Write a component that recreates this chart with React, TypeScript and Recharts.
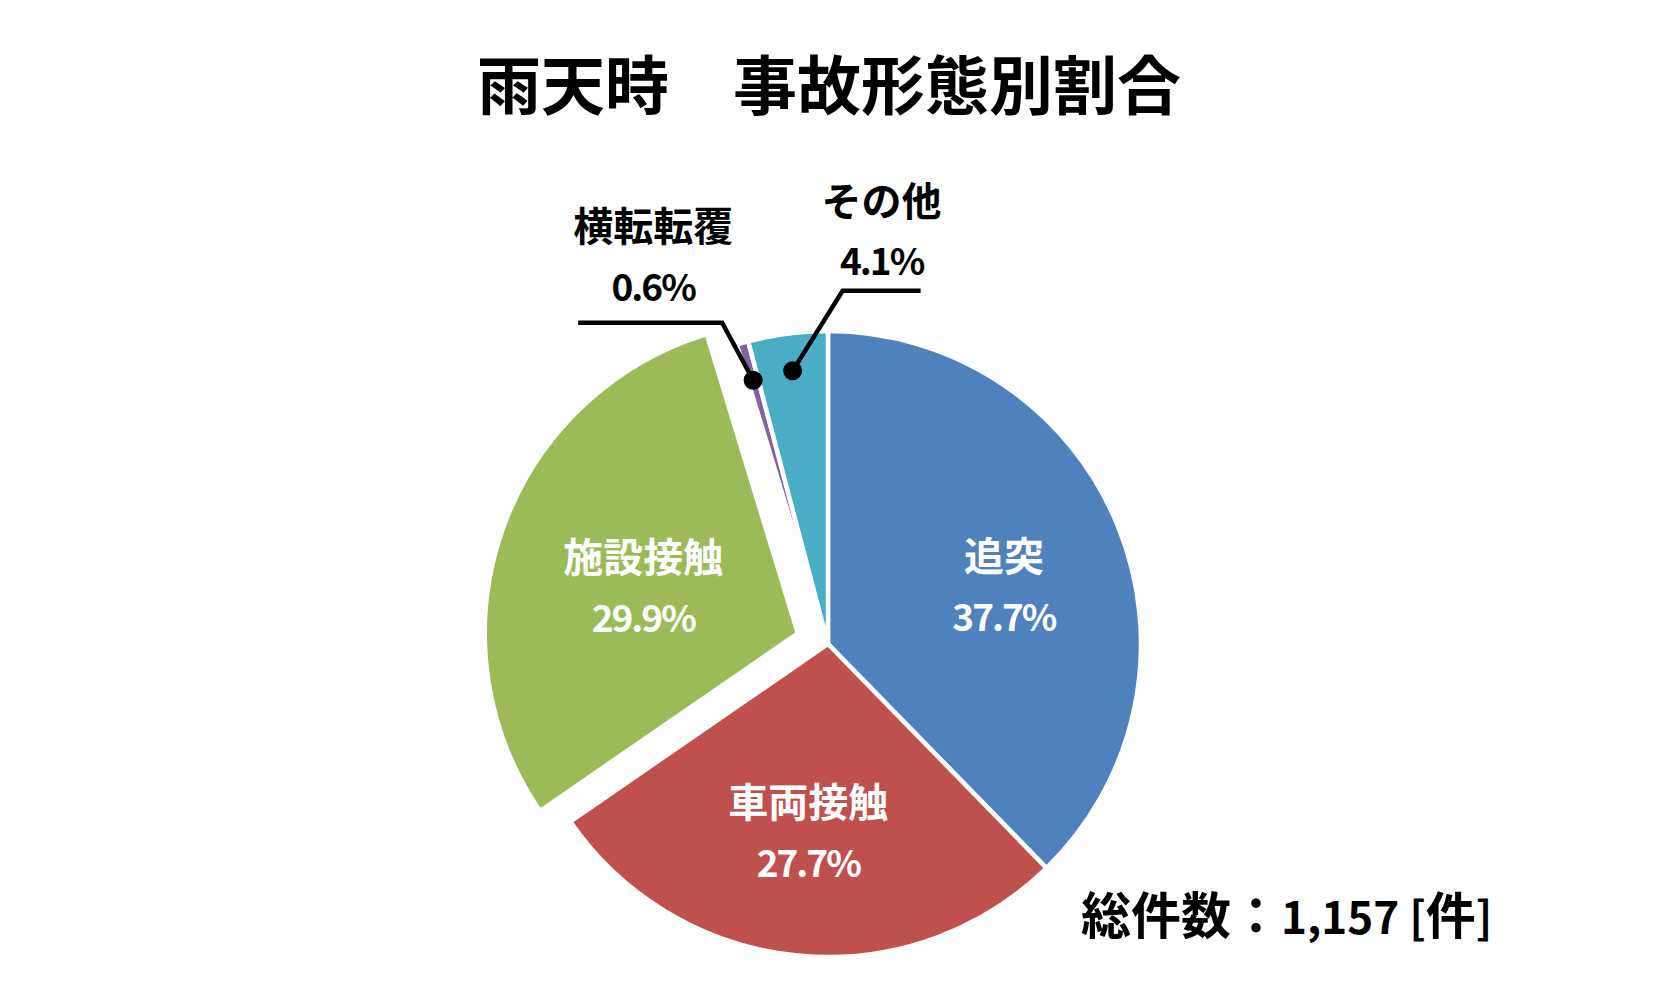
import React from "react"
import { PieChart, Pie, Cell } from "recharts"

// accident type share on rainy days (clockwise from 12 o'clock)
const categories = ["追突", "車両接触", "施設接触", "横転転覆", "その他"]
const shares = [37.7, 27.7, 29.9, 0.6, 4.1]
const colors = ["#4F81BD", "#C0504D", "#9BBB59", "#8064A2", "#4BACC6"]
const chartTitle = "雨天時　事故形態別割合"
const totalCount = "1,157"

const W = 1657
const H = 984
const CX = 828
const CY = 644
const R = 313
const RAD = Math.PI / 180
const FONT = "'Noto Sans CJK JP', 'Noto Sans', sans-serif"

// how far each slice is pulled out of the pie (px)
const explode = [0, 0, 32, 0, 0]

// label placement: inside labels sit on the slice, outside ones use a leader line
const insideLabel: Record<number, { f: number; dx: number; dy: number }> = {
  0: { f: 0.6, dx: 2, dy: 11 },
  1: { f: 0.6, dx: -1.5, dy: 0 },
  2: { f: 0.55, dx: 8, dy: 9 },
}
const outsideLabel: Record<number, { f: number; ex: number; ey: number; len: number; tx: number; ny: number; py: number }> = {
  3: { f: 0.876, ex: -31, ey: -57.5, len: -144, tx: -69, ny: -99, py: -38 },
  4: { f: 0.88, ex: 50, ey: -80, len: 78, tx: 39, ny: -92, py: -32 },
}

const table = categories.map((name, i) => ({ name, value: shares[i] }))
const total = shares.reduce((a, b) => a + b, 0)
const midAngles = shares.map((v, i) => {
  const before = shares.slice(0, i).reduce((a, b) => a + b, 0)
  return 90 - (360 * (before + v / 2)) / total
})

const nameStyle = { fontSize: 40, fontWeight: 700, fontFamily: FONT }
const pctStyle = { fontSize: 37, fontWeight: 700, fontFamily: FONT, letterSpacing: -2 }

const renderLabel = (p: any) => {
  const i = p.index
  const a = p.midAngle * RAD
  const ox = p.cx + explode[i] * Math.cos(a)
  const oy = p.cy - explode[i] * Math.sin(a)
  const pct = `${shares[i].toFixed(1)}%`
  const inside = insideLabel[i]
  if (inside) {
    const x = ox + inside.f * p.outerRadius * Math.cos(a) + inside.dx
    const y = oy - inside.f * p.outerRadius * Math.sin(a) + inside.dy
    return (
      <g key={`lbl-${i}`}>
        <text x={x} y={y - 30.5} fill="#fff" textAnchor="middle" dominantBaseline="central" style={nameStyle}>
          {categories[i]}
        </text>
        <text x={x} y={y + 30.5} fill="#fff" textAnchor="middle" dominantBaseline="central" style={pctStyle}>
          {pct}
        </text>
      </g>
    )
  }
  const o = outsideLabel[i]
  if (!o) return null
  const dx = ox + o.f * p.outerRadius * Math.cos(a)
  const dy = oy - o.f * p.outerRadius * Math.sin(a)
  const ex = dx + o.ex
  const ey = dy + o.ey
  return (
    <g key={`lbl-${i}`}>
      <polyline points={`${dx},${dy} ${ex},${ey} ${ex + o.len},${ey}`} fill="none" stroke="#000" strokeWidth={4.5} />
      <circle cx={dx} cy={dy} r={9.5} fill="#000" />
      <text x={ex + o.tx} y={ey + o.ny} fill="#000" textAnchor="middle" dominantBaseline="central" style={nameStyle}>
        {categories[i]}
      </text>
      <text x={ex + o.tx} y={ey + o.py} fill="#000" textAnchor="middle" dominantBaseline="central" style={pctStyle}>
        {pct}
      </text>
    </g>
  )
}

export default function App() {
  return (
    <div style={{ position: "absolute", left: 0, top: 0, width: W, height: H, background: "#fff" }}>
      <PieChart width={W} height={H} margin={{ top: 0, right: 0, bottom: 0, left: 0 }}>
        {/* one pie per slice so each slice can be pulled out on its own */}
        {categories.map((_, k) => {
          const a = midAngles[k] * RAD
          return (
            <Pie
              key={k}
              data={table}
              dataKey="value"
              nameKey="name"
              cx={CX + explode[k] * Math.cos(a)}
              cy={CY - explode[k] * Math.sin(a)}
              outerRadius={R}
              startAngle={90}
              endAngle={-270}
              labelLine={false}
              isAnimationActive={false}
            >
              {table.map((_, i) => (
                <Cell
                  key={i}
                  fill={i === k ? colors[i] : "none"}
                  stroke={i === k ? "#fff" : "none"}
                  strokeWidth={i === k ? 4.5 : 0}
                />
              ))}
            </Pie>
          )
        })}
        {/* labels on top of everything */}
        <Pie
          data={table}
          dataKey="value"
          nameKey="name"
          cx={CX}
          cy={CY}
          outerRadius={R}
          startAngle={90}
          endAngle={-270}
          label={renderLabel}
          labelLine={false}
          isAnimationActive={false}
        >
          {table.map((_, i) => (
            <Cell key={i} fill="none" stroke="none" />
          ))}
        </Pie>
      </PieChart>
      <svg width={W} height={H} style={{ position: "absolute", left: 0, top: 0, pointerEvents: "none" }}>
        <text x={829} y={109} textAnchor="middle" fontSize={64} fontWeight={700} fontFamily={FONT} fill="#000">
          {chartTitle}
        </text>
        <text x={1081} y={934} textAnchor="start" fontSize={50} fontWeight={700} fontFamily={FONT} fill="#000">
          総件数：<tspan fontSize={44}>{totalCount} [</tspan>件<tspan fontSize={44}>]</tspan>
        </text>
      </svg>
    </div>
  )
}
